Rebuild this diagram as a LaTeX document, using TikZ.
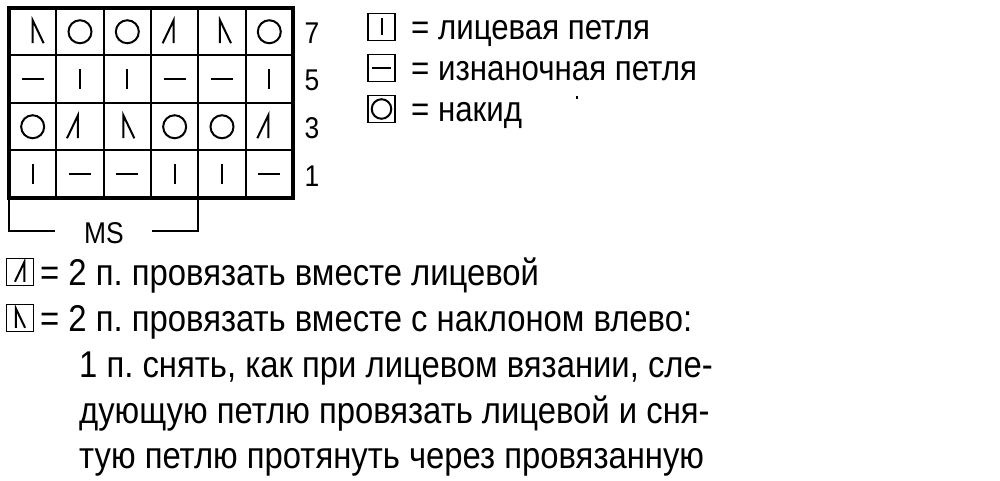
\documentclass[tikz,border=0pt]{standalone}
\usepackage{fontspec}
\setmainfont{Liberation Sans}[FakeStretch=0.88]
\begin{document}
\frenchspacing
\begin{tikzpicture}[x=1pt,y=-1pt,
  txt/.style={anchor=base west,inner sep=0pt,font=\fontsize{37.3}{46}\selectfont},
  ltxt/.style={anchor=base west,inner sep=0pt,font=\fontsize{35.5}{42}\selectfont},
  num/.style={anchor=center,inner sep=0pt,font=\fontsize{30}{30}\selectfont},
  sym/.style={line width=2pt},
  lbox/.style={draw,line width=1.6pt,minimum width=27pt,minimum height=27pt,inner sep=0pt},
  pics/knit/.style={code={\draw[sym] (0,-10) -- (0,10);}},
  pics/purl/.style={code={\draw[sym] (-11,0) -- (11,0);}},
  pics/yo/.style={code={\draw[sym] (0,0) circle (11.5);}},
  pics/ktog/.style={code={\draw[sym] (-6,11.5) -- (5,-11.5) -- (5,11.5);}},
  pics/skp/.style={code={\draw[sym] (-5,11.5) -- (-5,-11.5) -- (6,11.5);}}
]
\useasboundingbox (0,0) rectangle (1000,481);
% grid
\def\cw{47.33}\def\ch{47.5}
\foreach \i in {1,...,5} \draw[line width=2pt] (9+\i*\cw,8) -- (9+\i*\cw,198);
\foreach \j in {1,2,3} \draw[line width=2pt] (9,8+\j*\ch) -- (293,8+\j*\ch);
\draw[line width=4pt] (9,8) rectangle (293,198);
% cell centres
\foreach \r in {0,...,3} \foreach \c in {0,...,5}
  \coordinate (c\r\c) at (9+\c*\cw+\cw/2, 8+\r*\ch+\ch/2);
% row 7
\pic at ([xshift=5pt]c00) {skp};
\pic at (c01) {yo};
\pic at (c02) {yo};
\pic at ([xshift=-6pt]c03) {ktog};
\pic at ([xshift=3pt]c04) {skp};
\pic at (c05) {yo};
% row 5
\pic at (c10) {purl};
\pic at (c11) {knit};
\pic at (c12) {knit};
\pic at (c13) {purl};
\pic at (c14) {purl};
\pic at (c15) {knit};
% row 3
\pic at (c20) {yo};
\pic at ([xshift=-7pt]c21) {ktog};
\pic at ([xshift=1pt]c22) {skp};
\pic at (c23) {yo};
\pic at (c24) {yo};
\pic at ([xshift=-6pt]c25) {ktog};
% row 1
\pic at (c30) {knit};
\pic at (c31) {purl};
\pic at (c32) {purl};
\pic at (c33) {knit};
\pic at (c34) {knit};
\pic at (c35) {purl};
% row numbers
\node[num] (n7) at (312,33) {7};
\node[num] (n5) at (312,80) {5};
\node[num] (n3) at (312,128) {3};
\node[num] (n1) at (312,176) {1};
% MS bracket
\coordinate (ba) at (9,198);
\coordinate (bb) at (198,198);
\node[num] (ms) at (104,233) {MS};
\draw[line width=2pt] (ba) |- (55,231);
\draw[line width=2pt] (bb) |- (152,231);
% legend top
\node[lbox] (l1) at (381.5,27) {};
\pic[scale=0.85] at (l1) {knit};
\node[ltxt] (t1) at (411,40) {= лицевая петля};
\node[lbox] (l2) at (381.5,68) {};
\pic[scale=0.85] at (l2) {purl};
\node[ltxt] (t2) at (411,81) {= изнаночная петля};
\node[lbox] (l3) at (381.5,109) {};
\pic[scale=0.85] at (l3) {yo};
\node[ltxt] (t3) at (411,122) {= накид};
\fill (576,96) rectangle (578,99);
% legend bottom
\node[lbox] (l4) at (20,272) {};
\pic[scale=0.85] at (l4) {ktog};
\node[txt] (t4) at (40,285) {= 2 п. провязать вместе лицевой};
\node[lbox] (l5) at (20,318) {};
\pic[scale=0.85] at (l5) {skp};
\node[txt] (t5) at (40,331) {= 2 п. провязать вместе с наклоном влево:};
\node[txt] (t6) at (79,377) {1 п. снять, как при лицевом вязании, сле-};
\node[txt] (t7) at (79,423) {дующую петлю провязать лицевой и сня-};
\node[txt] (t8) at (79,468) {тую петлю протянуть через провязанную};
\end{tikzpicture}
\end{document}
